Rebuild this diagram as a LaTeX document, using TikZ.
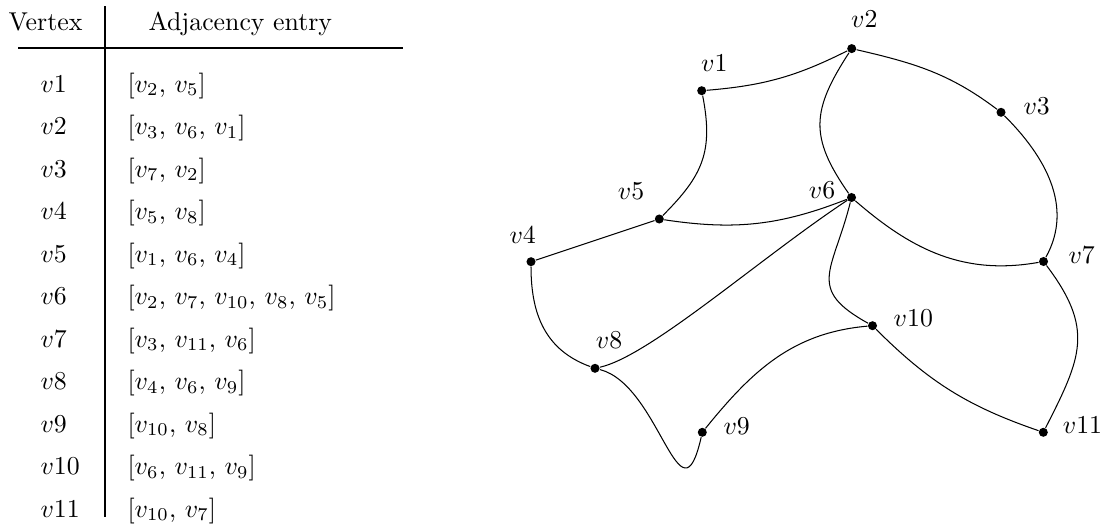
\documentclass[tikz,border=0pt]{standalone}
\begin{document}
\begin{tikzpicture}[x=0.3876pt,y=0.3876pt,
  vtx/.style={circle,fill=black,inner sep=0pt,minimum size=3.5pt},
  lbl/.style={inner sep=0pt},
  cell/.style={inner sep=0pt,anchor=base west},
  rule/.style={line width=0.5pt}]
\useasboundingbox (0,0) rectangle (1105,-528);
% ---------- table ----------
\node[cell] (h1) at (8,-30) {Vertex};
\node[cell] (h2) at (148,-30) {Adjacency entry};
\coordinate (vt) at (105,-6);
\coordinate (vb) at (105,-517);
\coordinate (hl) at (18,-48);
\coordinate (hr) at (403,-48);
\draw[rule] (vt) -- (vb);
\draw[rule] (hl) -- (hr);
\foreach \k/\a/\b in {0/1/{$[v_2$, $v_5]$},
                      1/2/{$[v_3$, $v_6$, $v_1]$},
                      2/3/{$[v_7$, $v_2]$},
                      3/4/{$[v_5$, $v_8]$},
                      4/5/{$[v_1$, $v_6$, $v_4]$},
                      5/6/{$[v_2$, $v_7$, $v_{10}$, $v_8$, $v_5]$},
                      6/7/{$[v_3$, $v_{11}$, $v_6]$},
                      7/8/{$[v_4$, $v_6$, $v_9]$},
                      8/9/{$[v_{10}$, $v_8]$},
                      9/10/{$[v_6$, $v_{11}$, $v_9]$},
                      10/11/{$[v_{10}$, $v_7]$}}{
  \node[cell] (r\a) at (40,{-92-42.5*\k}) {$v\a$};
  \node[cell] (e\a) at (127,{-92-42.5*\k}) {\b};
}
% ---------- graph ----------
\node[vtx] (v1) at (701.7,-90.7) {};
\node[vtx] (v2) at (851.7,-48.6) {};
\node[vtx] (v3) at (1001,-112.3) {};
\node[vtx] (v4) at (531,-261.7) {};
\node[vtx] (v5) at (659.3,-219) {};
\node[vtx] (v6) at (851.5,-197.5) {};
\node[vtx] (v7) at (1043.5,-261.5) {};
\node[vtx] (v8) at (595,-368.3) {};
\node[vtx] (v9) at (702.3,-432.3) {};
\node[vtx] (v10) at (872.5,-325.7) {};
\node[vtx] (v11) at (1043.3,-432.3) {};
\node[lbl] (l1) at (714.3,-63.5) {$v1$};
\node[lbl] (l2) at (864.3,-19.5) {$v2$};
\node[lbl] (l3) at (1036.7,-106) {$v3$};
\node[lbl] (l4) at (522.7,-235) {$v4$};
\node[lbl] (l5) at (631,-191) {$v5$};
\node[lbl] (l6) at (822,-190) {$v6$};
\node[lbl] (l7) at (1081.7,-255) {$v7$};
\node[lbl] (l8) at (609,-340) {$v8$};
\node[lbl] (l9) at (736.7,-426) {$v9$};
\node[lbl] (l10) at (913.3,-318.3) {$v10$};
\node[lbl] (l11) at (1082.5,-425) {$v11$};
\draw (v1) to[bend right=11] (v2);
\draw (v1) to[out=281,in=45,looseness=1.15] (v5);
\draw (v2) to[out=-13,in=143] (v3);
\draw (v3) to[out=-45,in=61] (v7);
\draw (v2) to[out=237,in=125,looseness=1.25] (v6);
\draw (v5) to[bend right=15] (v6);
\draw (v4) -- (v5);
\draw (v6) to[out=-41,in=190] (v7);
\draw (v6) to[out=256,in=151,looseness=1.5] (v10);
\draw (v6) .. controls (760,-258) and (650,-356) .. (v8);
\draw (v4) to[out=270,in=160,looseness=1.05] (v8);
\draw (v8) .. controls (660,-385) and (680,-530) .. (v9);
\draw (v9) to[out=51,in=185] (v10);
\draw (v10) to[bend right=13] (v11);
\draw (v7) to[out=-53,in=63,looseness=1.25] (v11);
\end{tikzpicture}
\end{document}
